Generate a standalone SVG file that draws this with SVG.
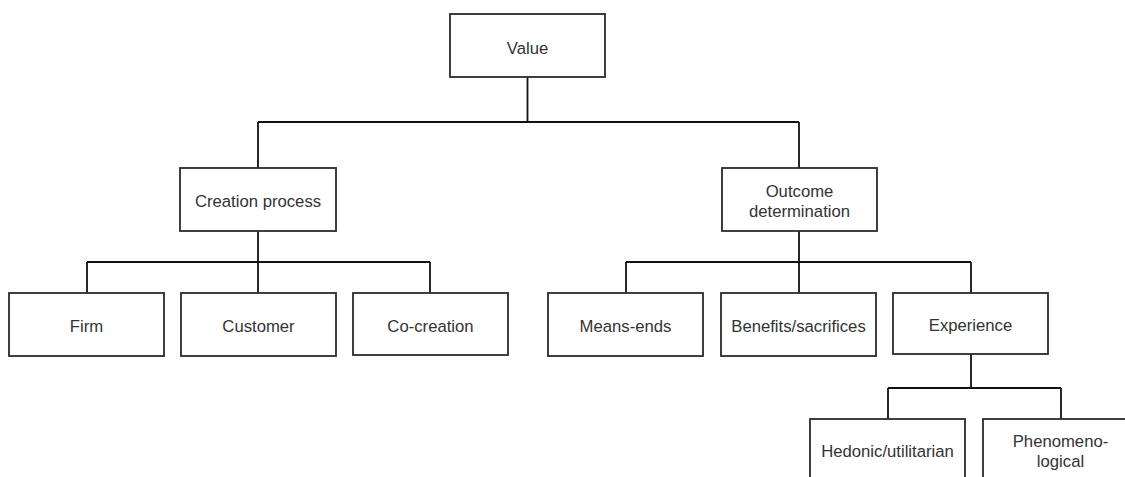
<svg xmlns="http://www.w3.org/2000/svg" width="1125" height="477" viewBox="0 0 1125 477">
  <style>
    .box { fill: #ffffff; stroke: #2b2b2b; stroke-width: 1.8; }
    .lbl { font-family: "Liberation Sans", Arial, sans-serif; font-size: 16.7px; fill: #333333; text-anchor: middle; }
    .link { fill: none; stroke: #111111; stroke-width: 1.8; }
  </style>
  <rect width="1125" height="477" fill="#ffffff"/>

  <!-- tree connectors -->
  <g id="connectors">
    <path class="link" d="M527.5,77 V122 M258,122 H799 M258,122 V168 M799,122 V168"/>
    <path class="link" d="M258,231 V262 M87,262 H430 M87,262 V293 M258,262 V293 M430,262 V293"/>
    <path class="link" d="M799,231 V262 M626,262 H971 M626,262 V293 M799,262 V293 M971,262 V293"/>
    <path class="link" d="M971,354 V388 M888,388 H1061 M888,388 V419 M1061,388 V419"/>
  </g>

  <g id="value">
    <rect class="box" x="450" y="14" width="155" height="63"/>
    <text class="lbl" x="527.5" y="54">Value</text>
  </g>

  <g id="creation-process">
    <rect class="box" x="180" y="168" width="156" height="63"/>
    <text class="lbl" x="258" y="207">Creation process</text>
  </g>

  <g id="outcome-determination">
    <rect class="box" x="722" y="168" width="155" height="63"/>
    <text class="lbl" x="799.5" y="197">Outcome</text>
    <text class="lbl" x="799.5" y="217">determination</text>
  </g>

  <g id="firm">
    <rect class="box" x="9" y="293" width="155" height="63"/>
    <text class="lbl" x="86.5" y="331.5">Firm</text>
  </g>

  <g id="customer">
    <rect class="box" x="181" y="293" width="155" height="63"/>
    <text class="lbl" x="258.5" y="331.5">Customer</text>
  </g>

  <g id="co-creation">
    <rect class="box" x="353" y="293" width="155" height="62"/>
    <text class="lbl" x="430.5" y="331.5">Co-creation</text>
  </g>

  <g id="means-ends">
    <rect class="box" x="548" y="293" width="155" height="63"/>
    <text class="lbl" x="625.5" y="331.5">Means-ends</text>
  </g>

  <g id="benefits-sacrifices">
    <rect class="box" x="721" y="293" width="155" height="63"/>
    <text class="lbl" x="798.5" y="331.5">Benefits/sacrifices</text>
  </g>

  <g id="experience">
    <rect class="box" x="893" y="293" width="155" height="61"/>
    <text class="lbl" x="970.5" y="331">Experience</text>
  </g>

  <g id="hedonic-utilitarian">
    <rect class="box" x="810" y="419" width="155" height="63"/>
    <text class="lbl" x="887.5" y="457">Hedonic/utilitarian</text>
  </g>

  <g id="phenomenological">
    <rect class="box" x="983" y="419" width="155" height="63"/>
    <text class="lbl" x="1060.5" y="447">Phenomeno-</text>
    <text class="lbl" x="1060.5" y="467">logical</text>
  </g>
</svg>
